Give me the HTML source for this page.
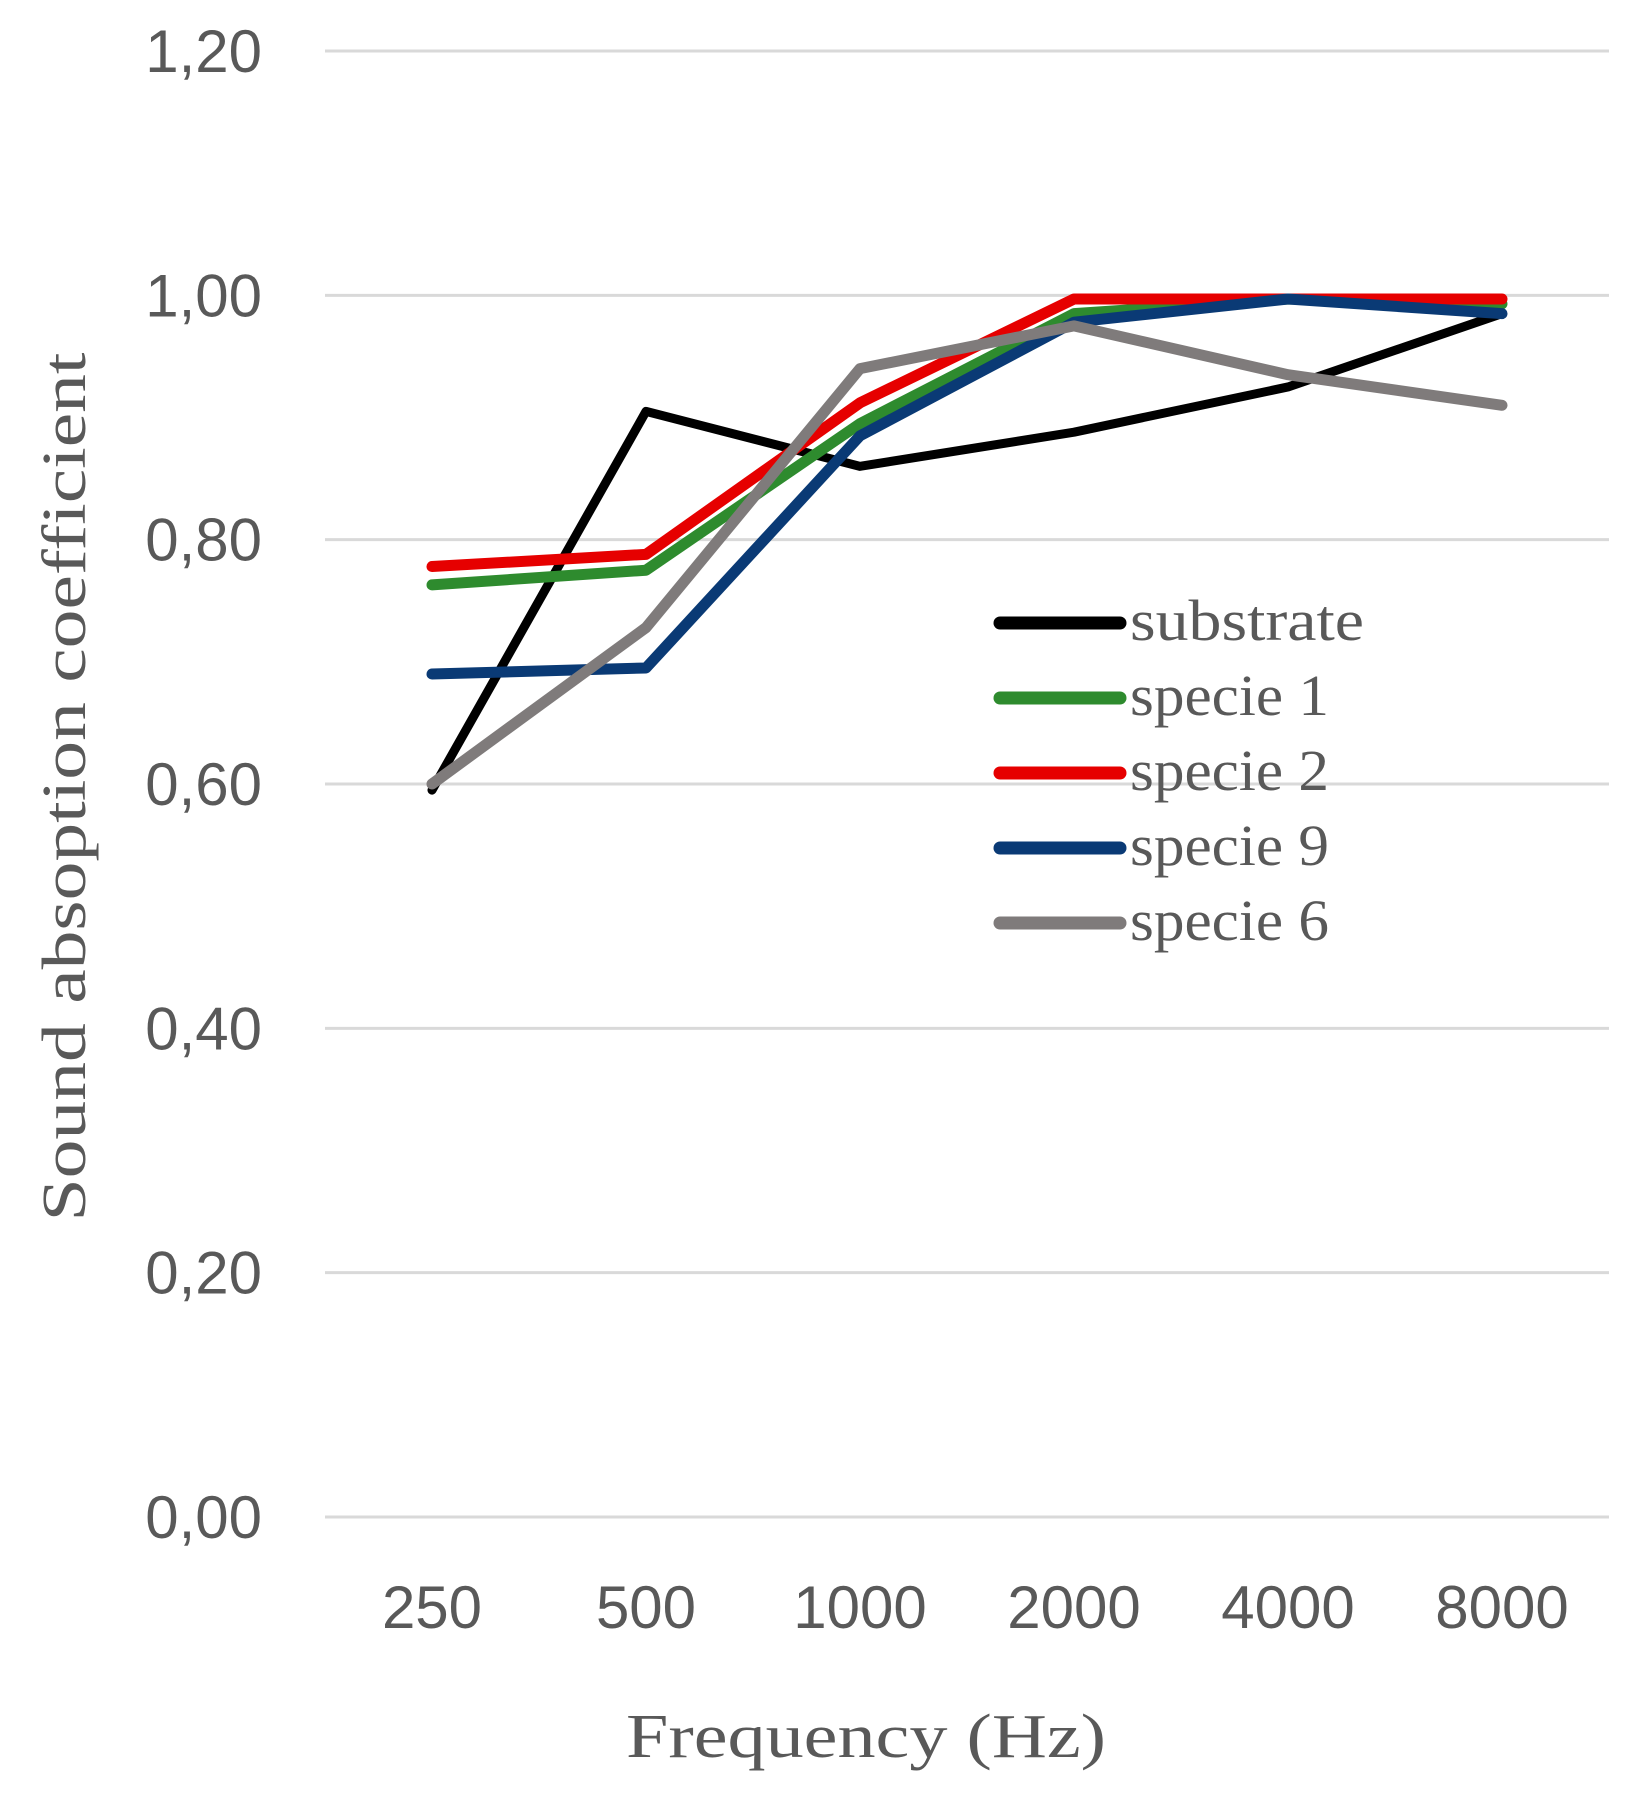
<!DOCTYPE html>
<html><head><meta charset="utf-8"><style>
html,body{margin:0;padding:0;background:#fff;}
svg{display:block;}
</style></head><body>
<svg id="chart" width="1651" height="1815" viewBox="0 0 1651 1815" xmlns="http://www.w3.org/2000/svg">
<g id="grid"></g>
<g id="ylabels"></g>
<g id="xlabels"></g>
<g id="series"></g>
<g id="legend"></g>
<text transform="translate(85,787) rotate(-90)" text-anchor="middle" font-family="Liberation Serif, serif" font-size="62" fill="#595959" textLength="869" lengthAdjust="spacingAndGlyphs">Sound absoption coefficient</text>
<text x="866" y="1757" text-anchor="middle" font-family="Liberation Serif, serif" font-size="62" fill="#595959" textLength="480" lengthAdjust="spacingAndGlyphs">Frequency (Hz)</text>
</svg>
<script>
const categories = ["250","500","1000","2000","4000","8000"];
const yTicks = [0,0.2,0.4,0.6,0.8,1.0,1.2];
const yTickLabels = ["0,00","0,20","0,40","0,60","0,80","1,00","1,20"];
const seriesNames = ["substrate","specie 1","specie 2","specie 9","specie 6"];
const seriesColors = ["#000000","#2e8b2e","#e60000","#0a3a75","#7f7b7b"];
const substrate = [0.595,0.905,0.86,0.888,0.925,0.985];
const specie1 = [0.763,0.775,0.895,0.985,0.997,0.993];
const specie2 = [0.778,0.788,0.912,0.997,0.997,0.997];
const specie9 = [0.69,0.695,0.885,0.978,0.997,0.985];
const specie6 = [0.60,0.728,0.94,0.975,0.935,0.91];
const allSeries = [substrate,specie1,specie2,specie9,specie6];

const NS="http://www.w3.org/2000/svg";
const L=325,R=1609,Y0=1517,Y1=51,YMAX=1.2;
const band=(R-L)/categories.length;
function xs(i){return L+band*(i+0.5);}
function ys(v){return Y0-(v/YMAX)*(Y0-Y1);}
function mk(tag,attrs,parent){const e=document.createElementNS(NS,tag);for(const k in attrs)e.setAttribute(k,attrs[k]);parent.appendChild(e);return e;}

const grid=document.getElementById('grid'),yl=document.getElementById('ylabels'),xl=document.getElementById('xlabels');
yTicks.forEach((t,i)=>{
  const g=mk('line',{x1:L,x2:R,y1:ys(t),y2:ys(t),stroke:'#d9d9d9','stroke-width':3},grid);
  
  
  const tx=mk('text',{x:262,y:ys(t)+21,'text-anchor':'end','font-family':'Liberation Sans, sans-serif','font-size':60,fill:'#595959'},yl);
  tx.textContent=yTickLabels[i];
  
  
});
categories.forEach((c,i)=>{
  const tx=mk('text',{x:xs(i),y:1628,'text-anchor':'middle','font-family':'Liberation Sans, sans-serif','font-size':60,fill:'#595959'},xl);
  tx.textContent=c;
  
  
});
const sg=document.getElementById('series');
allSeries.forEach((vals,si)=>{
  const pts=vals.map((v,i)=>xs(i)+','+ys(v)).join(' ');
  const p=mk('polyline',{points:pts,fill:'none',stroke:seriesColors[si],'stroke-width':si===0?9:11,'stroke-linejoin':'round','stroke-linecap':'round'},sg);
  
  
});
const lg=document.getElementById('legend');
seriesNames.forEach((n,i)=>{
  const y=623+75*i;
  const ln=mk('line',{x1:1000,x2:1120,y1:y,y2:y,stroke:seriesColors[i],'stroke-width':13,'stroke-linecap':'round'},lg);
  
  
  const tx=mk('text',{x:1130,y:y+17,'font-family':'Liberation Serif, serif','font-size':58,fill:'#595959',textLength:(i===0?234:199),lengthAdjust:'spacingAndGlyphs'},lg);
  tx.textContent=n;
  
  
});
</script>
</body></html>
